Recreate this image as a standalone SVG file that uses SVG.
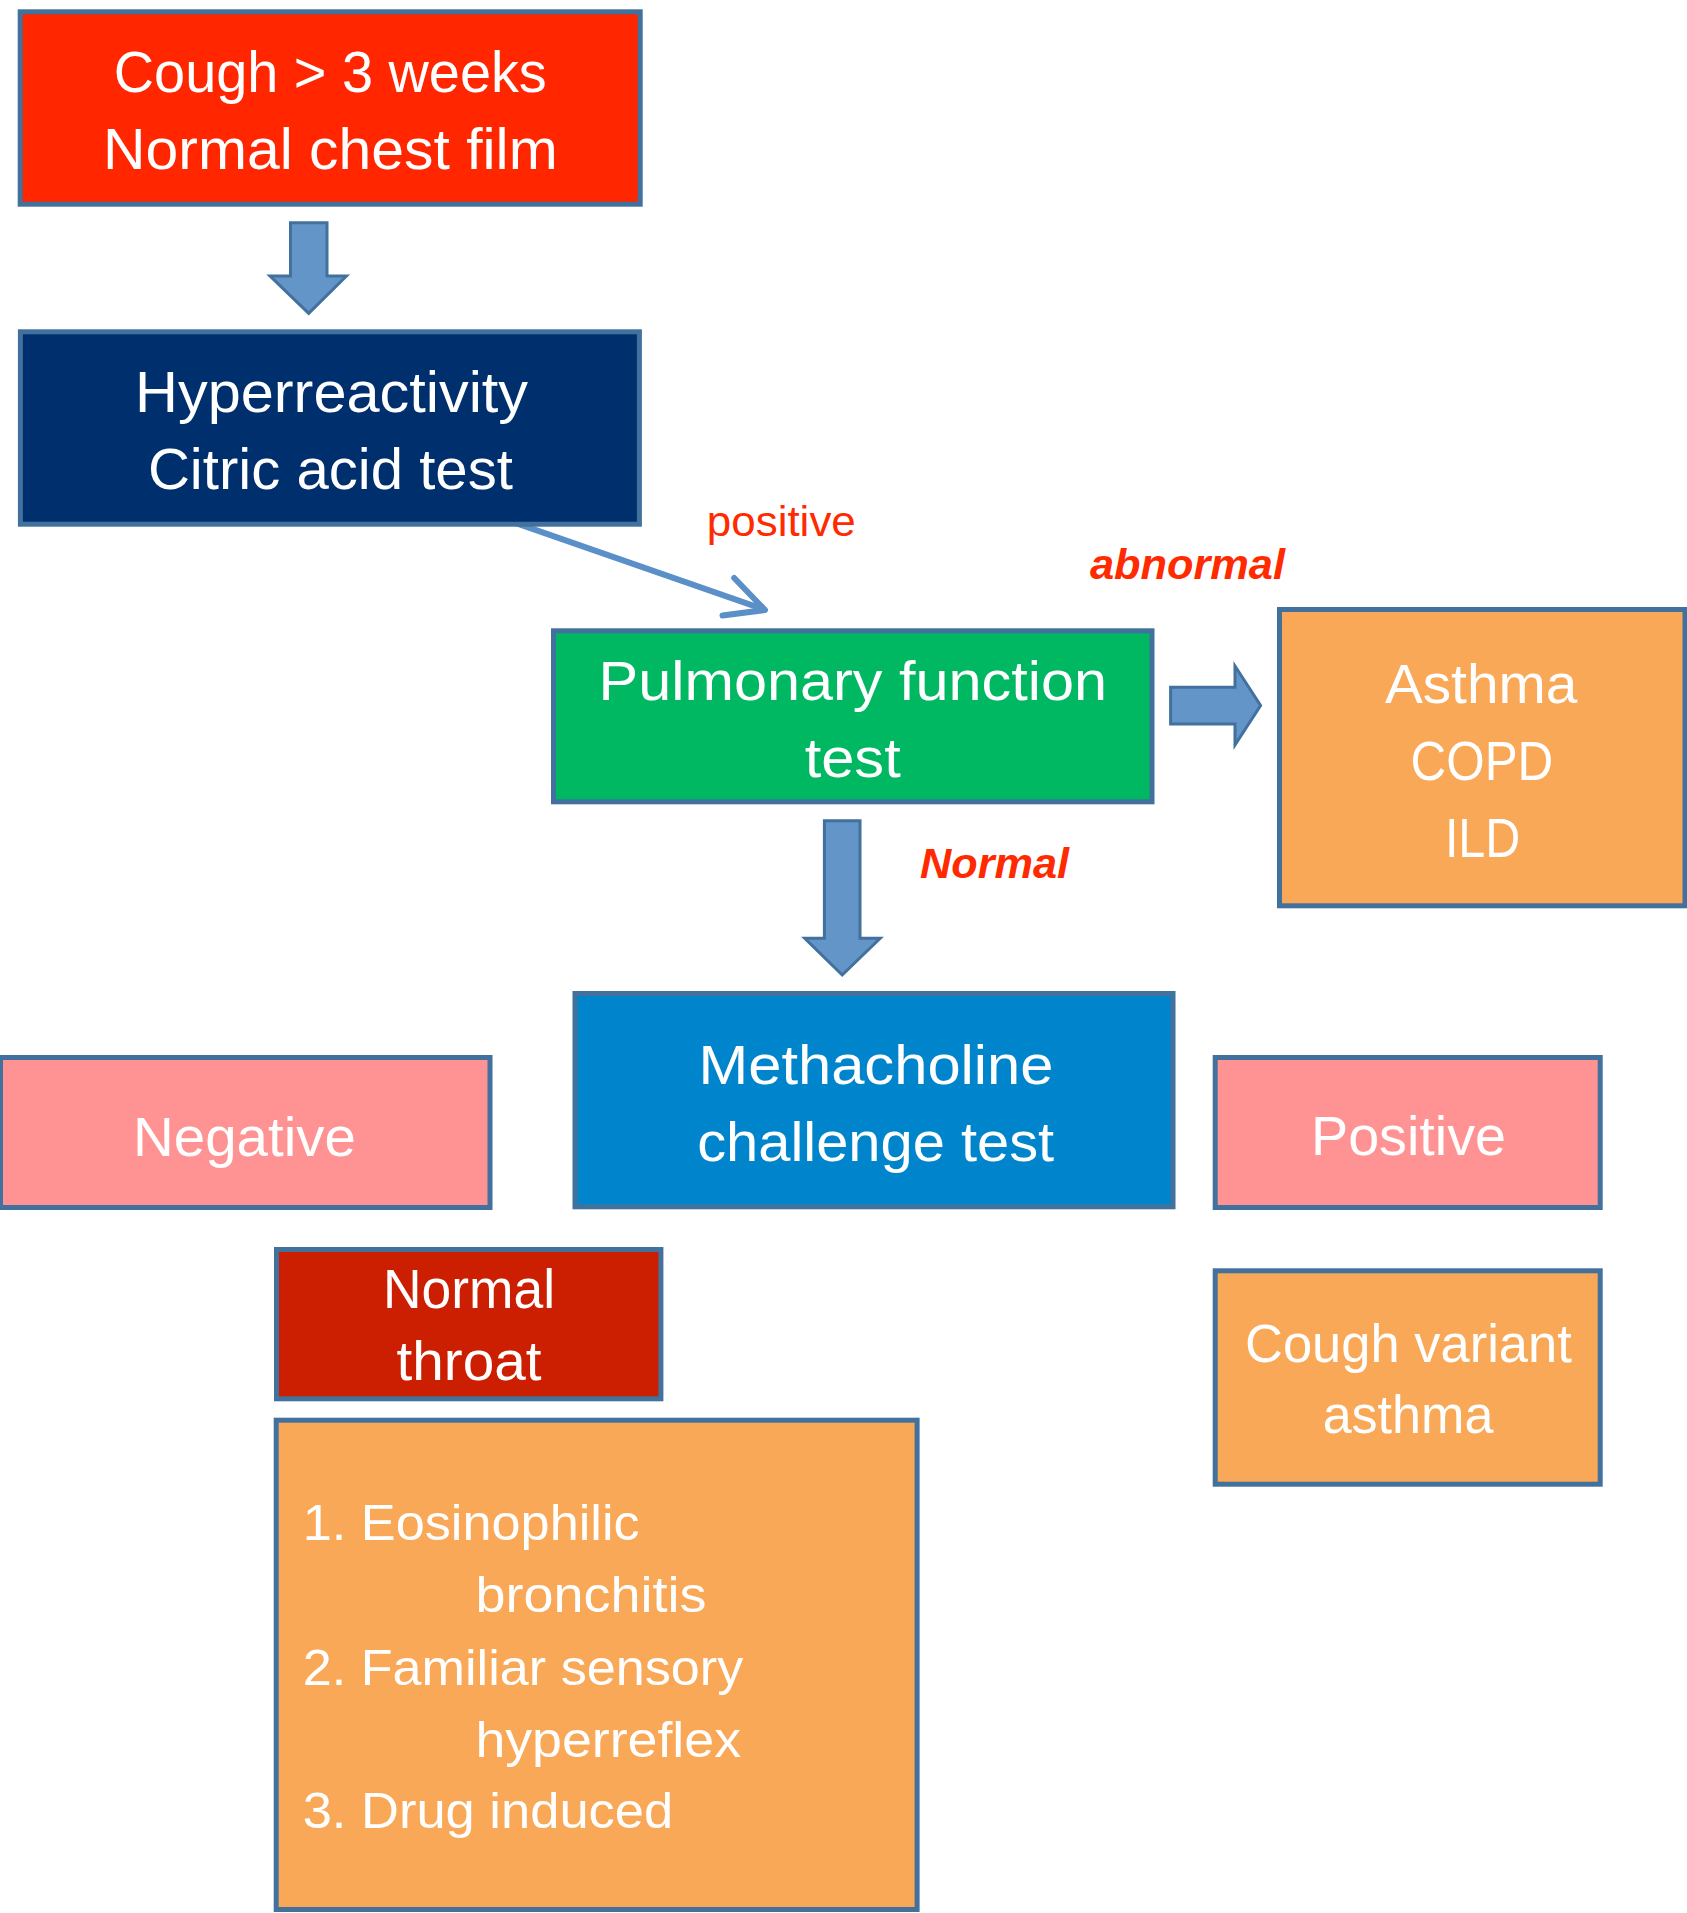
<svg xmlns="http://www.w3.org/2000/svg" width="1687" height="1913" viewBox="0 0 1687 1913">
  <style>
    .box { stroke: #41719C; stroke-width: 5; }
    .t { font-family: "Liberation Sans", Arial, sans-serif; fill: #FFFFFF; text-anchor: middle; lengthAdjust: spacingAndGlyphs; }
    .ts { font-family: "Liberation Sans", Arial, sans-serif; fill: #FFFFFF; text-anchor: start; }
    .lbl { font-family: "Liberation Sans", Arial, sans-serif; fill: #FF2A00; }
    .lblb { font-family: "Liberation Sans", Arial, sans-serif; fill: #FF2A00; font-weight: bold; font-style: italic; }
    .blk { fill: #6395C9; stroke: #41719C; stroke-width: 3; stroke-linejoin: miter; }
    .thin { fill: none; stroke: #5B8FC8; stroke-width: 6; stroke-linecap: round; stroke-linejoin: round; }
  </style>
  <rect width="1687" height="1913" fill="#FFFFFF"/>

  <g id="connectors">
    <polygon class="blk" points="290.5,222.7 327,222.7 327,276 346.4,276 308.7,313.3 270,276 290.5,276"/>
    <line class="thin" x1="511.7" y1="521.7" x2="764" y2="609.5"/>
    <polyline class="thin" points="734.2,578 765,610 722.5,615.5"/>
    <polygon class="blk" points="1170.6,687.3 1235,687.3 1235,666 1260.6,705.5 1235,745 1235,724 1170.6,724"/>
    <polygon class="blk" points="824.4,820.7 860,820.7 860,938.3 880.2,938.3 842.2,975 804.7,938.3 824.4,938.3"/>
    <text class="lbl" x="706.8" y="536" font-size="42" textLength="149" lengthAdjust="spacingAndGlyphs">positive</text>
    <text class="lblb" x="1090" y="579.3" font-size="43" textLength="195" lengthAdjust="spacingAndGlyphs">abnormal</text>
    <text class="lblb" x="920" y="878.3" font-size="43" textLength="149" lengthAdjust="spacingAndGlyphs">Normal</text>
  </g>

  <g id="cough">
    <rect class="box" x="20.2" y="11.8" width="620" height="192.4" fill="#FF2600"/>
    <text class="t" x="330.3" y="92.3" font-size="58" textLength="433" lengthAdjust="spacingAndGlyphs">Cough &gt; 3 weeks</text>
    <text class="t" x="330.4" y="169.3" font-size="58" textLength="454.6" lengthAdjust="spacingAndGlyphs">Normal chest film</text>
  </g>

  <g id="hyperreactivity">
    <rect class="box" x="20.4" y="331.8" width="619" height="192.4" fill="#002F6E"/>
    <text class="t" x="331.6" y="412.3" font-size="57" textLength="393" lengthAdjust="spacingAndGlyphs">Hyperreactivity</text>
    <text class="t" x="330.4" y="489.3" font-size="57" textLength="365" lengthAdjust="spacingAndGlyphs">Citric acid test</text>
  </g>

  <g id="pft">
    <rect class="box" x="553.5" y="630.8" width="598.5" height="171" fill="#00B862"/>
    <text class="t" x="852.8" y="700" font-size="56" textLength="508.5" lengthAdjust="spacingAndGlyphs">Pulmonary function</text>
    <text class="t" x="852.7" y="776.7" font-size="56" textLength="96" lengthAdjust="spacingAndGlyphs">test</text>
  </g>

  <g id="asthma-copd-ild">
    <rect class="box" x="1279.5" y="609.5" width="405.5" height="296.3" fill="#F9A857"/>
    <text class="t" x="1481.1" y="702.7" font-size="55" textLength="192.4" lengthAdjust="spacingAndGlyphs">Asthma</text>
    <text class="t" x="1481.9" y="780" font-size="55" textLength="142.7" lengthAdjust="spacingAndGlyphs">COPD</text>
    <text class="t" x="1482.6" y="857.3" font-size="55" textLength="75.4" lengthAdjust="spacingAndGlyphs">ILD</text>
  </g>

  <g id="methacholine">
    <rect class="box" x="575" y="993.5" width="598" height="213.3" fill="#0085CD"/>
    <text class="t" x="876" y="1084" font-size="56" textLength="355" lengthAdjust="spacingAndGlyphs">Methacholine</text>
    <text class="t" x="875.7" y="1161" font-size="56" textLength="357" lengthAdjust="spacingAndGlyphs">challenge test</text>
  </g>

  <g id="negative">
    <rect class="box" x="0.5" y="1057.5" width="489.5" height="150" fill="#FF9393"/>
    <text class="t" x="244.4" y="1155.7" font-size="56" textLength="222.8" lengthAdjust="spacingAndGlyphs">Negative</text>
  </g>

  <g id="positive">
    <rect class="box" x="1215.2" y="1057.5" width="385" height="150" fill="#FF9393"/>
    <text class="t" x="1408.5" y="1155" font-size="56" textLength="195" lengthAdjust="spacingAndGlyphs">Positive</text>
  </g>

  <g id="normal-throat">
    <rect class="box" x="276.5" y="1249.5" width="384.4" height="149.3" fill="#CC1E00"/>
    <text class="t" x="469" y="1307.7" font-size="55" textLength="172" lengthAdjust="spacingAndGlyphs">Normal</text>
    <text class="t" x="469" y="1380" font-size="55" textLength="145" lengthAdjust="spacingAndGlyphs">throat</text>
  </g>

  <g id="cough-variant-asthma">
    <rect class="box" x="1215.2" y="1270.8" width="385" height="213.4" fill="#F9A857"/>
    <text class="t" x="1408.4" y="1361.7" font-size="54" textLength="326.7" lengthAdjust="spacingAndGlyphs">Cough variant</text>
    <text class="t" x="1408" y="1432.7" font-size="54" textLength="170.7" lengthAdjust="spacingAndGlyphs">asthma</text>
  </g>

  <g id="differential-list">
    <rect class="box" x="276.2" y="1420.2" width="640.9" height="489.3" fill="#F9A857"/>
    <text class="ts" x="302.7" y="1540" font-size="50" textLength="337" lengthAdjust="spacingAndGlyphs">1. Eosinophilic</text>
    <text class="ts" x="475.4" y="1612.3" font-size="50" textLength="231" lengthAdjust="spacingAndGlyphs">bronchitis</text>
    <text class="ts" x="302.7" y="1685" font-size="50" textLength="440.6" lengthAdjust="spacingAndGlyphs">2. Familiar sensory</text>
    <text class="ts" x="475.4" y="1756.7" font-size="50" textLength="265.6" lengthAdjust="spacingAndGlyphs">hyperreflex</text>
    <text class="ts" x="302.7" y="1828.3" font-size="50" textLength="370.5" lengthAdjust="spacingAndGlyphs">3. Drug induced</text>
  </g>
</svg>
